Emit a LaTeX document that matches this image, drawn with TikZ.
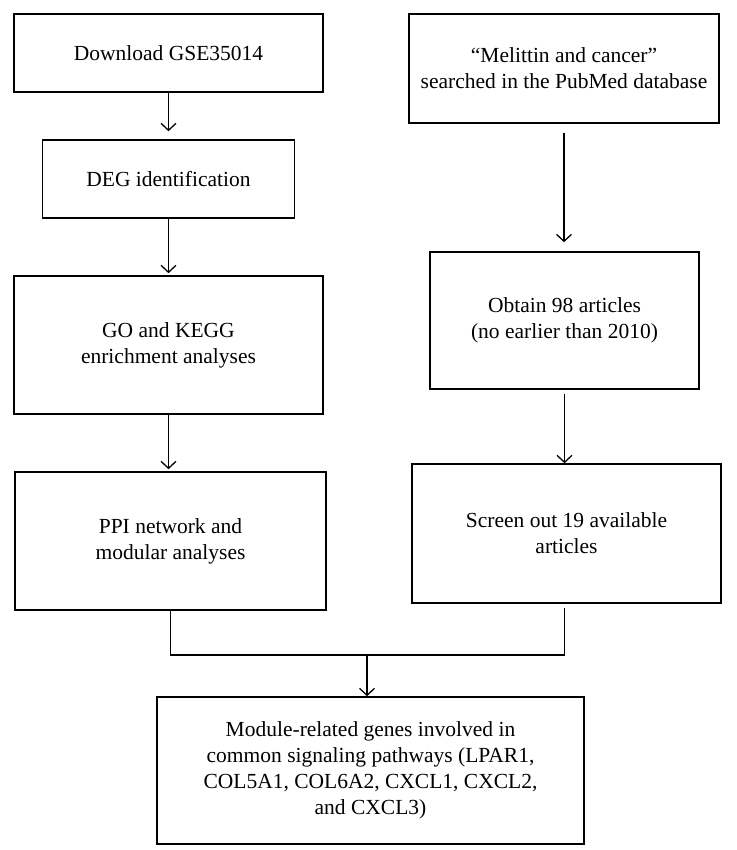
\documentclass[tikz,border=0pt]{standalone}
\usepackage{fontspec}
\setmainfont{Liberation Serif}
\usetikzlibrary{positioning, arrows.meta}

\begin{document}
\begin{tikzpicture}[x=1pt, y=-1pt, line width=1.3pt,
box/.style={draw, line width=1.6pt, align=center, inner sep=0pt, font=\fontsize{21.5}{26}\selectfont},
>={Straight Barb[length=7pt, width=15pt]}]
\useasboundingbox (0,0) rectangle (736,850);
\node[box, minimum width=309pt, minimum height=78pt] (0) at (168.5,53) {Download GSE35014};
\node[box, minimum width=252pt, minimum height=78pt] (1) at (168.5,179) {DEG identification};
\node[box, minimum width=309pt, minimum height=138pt] (2) at (168.5,345) {GO and KEGG\\enrichment analyses};
\node[box, minimum width=311pt, minimum height=138pt] (3) at (170.5,541) {PPI network and\\modular analyses};
\node[box, minimum width=310pt, minimum height=109pt] (4) at (564,68.5) {``Melittin and cancer''\\searched in the PubMed database};
\node[box, minimum width=269pt, minimum height=137pt] (5) at (564.5,320.5) {Obtain 98 articles\\(no earlier than 2010)};
\node[box, minimum width=309pt, minimum height=139pt] (6) at (566.5,533.5) {Screen out 19 available\\articles};
\node[box, minimum width=427pt, minimum height=147pt] (7) at (370.5,770.5) {Module-related genes involved in\\common signaling pathways (LPAR1,\\COL5A1, COL6A2, CXCL1, CXCL2,\\and CXCL3)};
\coordinate (join) at (367,655);
\path[->] (0.south) edge[shorten >=8pt] (0.south |- 1.north)
(1.south) edge[shorten >=2pt] (1.south |- 2.north)
(2.south) edge[shorten >=2pt] (2.south |- 3.north)
([yshift=-9pt]4.south) edge[shorten >=9pt] (4.south |- 5.north)
([yshift=-4pt]5.south) edge (5.south |- 6.north)
(join) edge (join |- 7.north)
;
\draw (3.south) |- (join) -| ([xshift=-2pt, yshift=-4pt]6.south);
\end{tikzpicture}
\end{document}
